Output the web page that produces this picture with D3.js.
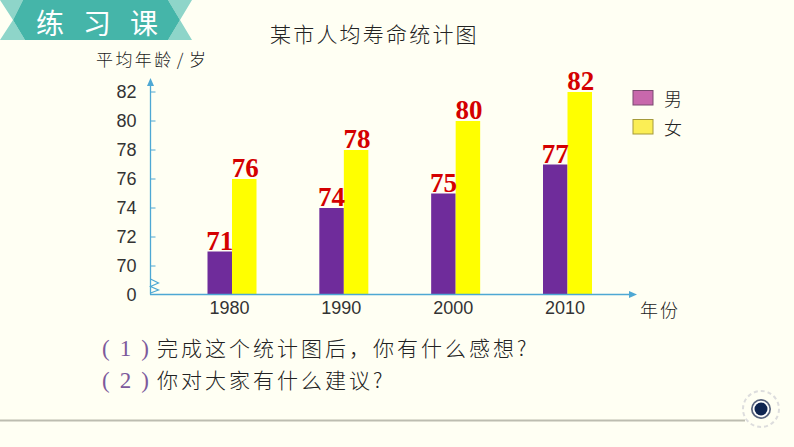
<!DOCTYPE html>
<html>
<head>
<meta charset="utf-8">
<script src="https://cdn.jsdelivr.net/npm/d3@7"></script>
<style>
  html, body { margin: 0; padding: 0; background: #fffff3; overflow: hidden; }
  text { font-family: "Noto Sans CJK SC", sans-serif; }
  .num { font-family: "Liberation Sans", Arial, sans-serif; }
  .val { font-family: "Liberation Serif", serif; font-weight: bold; }
  .paren { font-family: "Liberation Serif", serif; }
</style>
</head>
<body>
<div id="chart"></div>
<script>
var years = ["1980", "1990", "2000", "2010"];
var male = [71, 74, 75, 77];
var female = [76, 78, 80, 82];
var yTicks = [0, 70, 72, 74, 76, 78, 80, 82];
var legendLabels = ["男", "女"];
var questions = ["完成这个统计图后，你有什么感想?", "你对大家有什么建议?"];

var width = 794;
var height = 447;
var barW = 24.5;

var svg = d3.select("#chart").append("svg")
    .attr("width", width)
    .attr("height", height);

// axis is broken between 0 and 70, hence the three-part domain
var y = d3.scaleLinear().domain([0, 70, 82]).range([294.5, 266, 92]);
var x = d3.scalePoint().domain(years).range([232, 567.5]);

// header ribbon
var ribbon = svg.append("g");
ribbon.append("path").attr("d", "M0,0H23L13,20L25,40H0L13,20Z").attr("fill", "#8ed5c9");
ribbon.append("path").attr("d", "M192,0H168L180,20L168,40H192L180,20Z").attr("fill", "#8ed5c9");
ribbon.append("path").attr("d", "M23,0H168L180,20L168,40H25L13,20Z").attr("fill", "#45b5a9");
ribbon.append("text")
    .attr("x", 36).attr("y", 34)
    .attr("fill", "#fff")
    .style("font-size", "28px")
    .style("letter-spacing", "19px")
    .text("练习课");

svg.append("text")
    .attr("x", 270).attr("y", 42)
    .attr("fill", "#222")
    .style("font-size", "21px")
    .style("font-weight", "300")
    .style("letter-spacing", "2.2px")
    .text("某市人均寿命统计图");

svg.append("text")
    .attr("x", 96).attr("y", 66)
    .attr("fill", "#222")
    .style("font-size", "17px")
    .style("font-weight", "300")
    .style("letter-spacing", "2.4px")
    .style("word-spacing", "-3px")
    .text("平均年龄 / 岁");

// bars
svg.selectAll(".male").data(male).enter().append("rect")
    .attr("class", "male")
    .attr("x", (d, i) => x(years[i]) - barW)
    .attr("y", d => y(d))
    .attr("width", barW)
    .attr("height", d => y(0) - y(d))
    .attr("fill", "#6f2c9b");

svg.selectAll(".female").data(female).enter().append("rect")
    .attr("class", "female")
    .attr("x", (d, i) => x(years[i]))
    .attr("y", d => y(d))
    .attr("width", barW)
    .attr("height", d => y(0) - y(d))
    .attr("fill", "#ffff00");

svg.selectAll(".maleVal").data(male).enter().append("text")
    .attr("class", "val")
    .attr("x", (d, i) => x(years[i]) - barW / 2)
    .attr("y", d => y(d) - 2)
    .attr("text-anchor", "middle")
    .attr("fill", "#d40000")
    .style("font-size", "27px")
    .text(d => d);

svg.selectAll(".femaleVal").data(female).enter().append("text")
    .attr("class", "val")
    .attr("x", (d, i) => x(years[i]) + barW / 2 + 1)
    .attr("y", d => y(d) - 2)
    .attr("text-anchor", "middle")
    .attr("fill", "#d40000")
    .style("font-size", "27px")
    .text(d => d);

// y axis
var axisColor = "#4ea8d4";
var yAxis = svg.append("g")
    .attr("transform", "translate(150.5,0)")
    .call(d3.axisLeft(y).tickValues(yTicks).tickSize(0).tickPadding(14));
yAxis.select(".domain").remove();
yAxis.selectAll("text")
    .attr("class", "num")
    .attr("fill", "#333")
    .style("font-size", "18px");
yAxis.append("line").attr("y1", 294.5).attr("y2", 84).attr("stroke", axisColor).attr("stroke-width", 1.3);
yAxis.append("path").attr("d", "M-3.5,86L0,78L3.5,86Z").attr("fill", axisColor);
yAxis.selectAll(".mark").data(yTicks.slice(1)).enter().append("line")
    .attr("class", "mark")
    .attr("x1", 0).attr("x2", 5)
    .attr("y1", d => y(d)).attr("y2", d => y(d))
    .attr("stroke", axisColor);
// break mark
yAxis.append("path")
    .attr("d", "M0,279L8,283L0,286.5L8,290L0,293")
    .attr("fill", "none")
    .attr("stroke", axisColor)
    .attr("stroke-width", 1.2);

// x axis
var xAxis = svg.append("g")
    .attr("transform", "translate(0,294.5)")
    .call(d3.axisBottom(x).tickSize(0).tickPadding(7));
xAxis.select(".domain").remove();
xAxis.selectAll("text")
    .attr("class", "num")
    .attr("dx", -3)
    .attr("fill", "#333")
    .style("font-size", "18px");
xAxis.append("line").attr("x1", 150).attr("x2", 630).attr("stroke", axisColor).attr("stroke-width", 1.3);
xAxis.append("path").attr("d", "M629,-3.5L637,0L629,3.5Z").attr("fill", axisColor);

svg.append("text")
    .attr("x", 640).attr("y", 317)
    .attr("fill", "#222")
    .style("font-size", "18px")
    .style("font-weight", "300")
    .style("letter-spacing", "2px")
    .text("年份");

// legend
var legendColors = ["#c868ac", "#fbee55"];
var legendStroke = ["#7a4a70", "#a59a3a"];
var legend = svg.selectAll(".legend").data(legendLabels).enter().append("g")
    .attr("class", "legend")
    .attr("transform", (d, i) => `translate(633,${90.5 + i * 29})`);
legend.append("rect")
    .attr("width", 20).attr("height", 14.5)
    .attr("fill", (d, i) => legendColors[i])
    .attr("stroke", (d, i) => legendStroke[i]);
legend.append("text")
    .attr("x", 31).attr("y", 15)
    .attr("fill", "#222")
    .style("font-size", "18px")
    .style("font-weight", "300")
    .text(d => d);

// questions
var q = svg.selectAll(".q").data(questions).enter().append("g")
    .attr("class", "q")
    .attr("transform", (d, i) => `translate(0,${356 + i * 32})`);
q.append("text")
    .attr("class", "paren")
    .attr("x", 102).attr("y", 0)
    .attr("fill", "#7d5a9c")
    .style("font-size", "23px")
    .style("letter-spacing", "10px")
    .text((d, i) => "(" + (i + 1) + ")");
q.append("text")
    .attr("x", 157).attr("y", 0)
    .attr("fill", "#222")
    .style("font-size", "21px")
    .style("font-weight", "300")
    .style("letter-spacing", "3px")
    .text(d => d);

// footer line and gear
svg.append("line")
    .attr("x1", 0).attr("x2", 745)
    .attr("y1", 420.5).attr("y2", 420.5)
    .attr("stroke", "#bdbdb0")
    .attr("stroke-width", 2);
var gear = svg.append("g").attr("transform", "translate(761,409)");
gear.append("circle").attr("r", 18).attr("fill", "#fffff3")
    .attr("stroke", "#ddd").attr("stroke-width", 2).attr("stroke-dasharray", "4 3");
gear.append("circle").attr("r", 10).attr("fill", "#55607a");
gear.append("circle").attr("r", 8.3).attr("fill", "#fff");
gear.append("circle").attr("r", 6.5).attr("fill", "#0e2450");
</script>
</body>
</html>
